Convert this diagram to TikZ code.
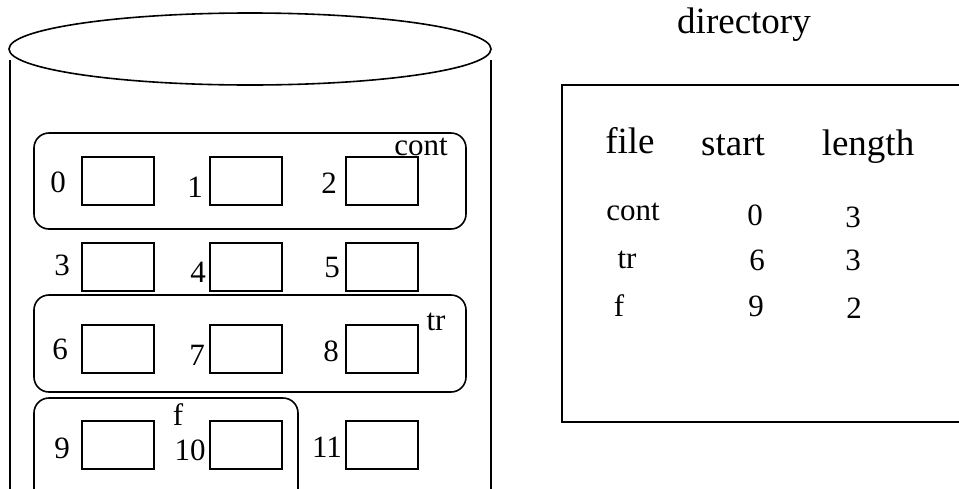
\documentclass[tikz,border=0pt]{standalone}
\usepackage{fontspec}
\setmainfont{Liberation Serif}
\usetikzlibrary{positioning}

\begin{document}
\begin{tikzpicture}[x=1pt,y=-1pt,line width=1.6pt,
    block/.style={draw, minimum width=72pt, minimum height=48pt, inner sep=0pt},
    num/.style={anchor=base, inner sep=0pt, font=\fontsize{31}{36}\selectfont},
    head/.style={anchor=base, inner sep=0pt, font=\fontsize{37}{44}\selectfont}]
  \useasboundingbox (0,0) rectangle (959,488);
  \clip (0,0) rectangle (959,488);

  % the disk
  \draw (250,49) ellipse [x radius=241pt, y radius=36pt];
  \draw (10,60) -- (10,500);
  \draw (491,60) -- (491,500);

  % blocks on the disk
  \node (b0) [block] at (118,181) {};
  \node (b1) [block] at (246,181) {};
  \node (b2) [block] at (382,181) {};
  \node (b3) [block] at (118,267) {};
  \node (b4) [block] at (246,267) {};
  \node (b5) [block] at (382,267) {};
  \node (b6) [block] at (118,349) {};
  \node (b7) [block] at (246,349) {};
  \node (b8) [block] at (382,349) {};
  \node (b9) [block] at (118,445) {};
  \node (b10) [block] at (246,445) {};
  \node (b11) [block] at (382,445) {};

  \node (n0) [num] at (58,192) {0};
  \node (n1) [num] at (195,197) {1};
  \node (n2) [num] at (329,193) {2};
  \node (n3) [num] at (62,275) {3};
  \node (n4) [num] at (198,282) {4};
  \node (n5) [num] at (332,277) {5};
  \node (n6) [num] at (60,359) {6};
  \node (n7) [num] at (197,365) {7};
  \node (n8) [num] at (331,361) {8};
  \node (n9) [num] at (62,458) {9};
  \node (n10) [num] at (190,460) {10};
  \node (n11) [num] at (327,457) {11};

  % contiguous files
  \draw[rounded corners=15pt] (34,133) rectangle (466,229);
  \draw[rounded corners=15pt] (34,295) rectangle (466,392);
  \draw[rounded corners=15pt] (34,398) rectangle (298,510);
  \node (cont) [num] at (421,155) {cont};
  \node (tr) [num] at (436,330) {tr};
  \node (f) [num] at (178,425) {f};

  % directory
  \node (dir) [head] at (744,33) {directory};
  \draw (562,85) rectangle (975,422);
  \node (hdFile) [head] at (630,153) {file};
  \node (hdStart) [head] at (733,155) {start};
  \node (hdLength) [head] at (868,155) {length};

  \node (contName) [num] at (633,220) {cont};
  \node (contStart) [num] at (755,225) {0};
  \node (contLen) [num] at (853,227) {3};
  \node (trName) [num] at (627,268) {tr};
  \node (trStart) [num] at (757,270) {6};
  \node (trLen) [num] at (853,270) {3};
  \node (fName) [num] at (619,316) {f};
  \node (fStart) [num] at (756,316) {9};
  \node (fLen) [num] at (854,318) {2};
\end{tikzpicture}
\end{document}
